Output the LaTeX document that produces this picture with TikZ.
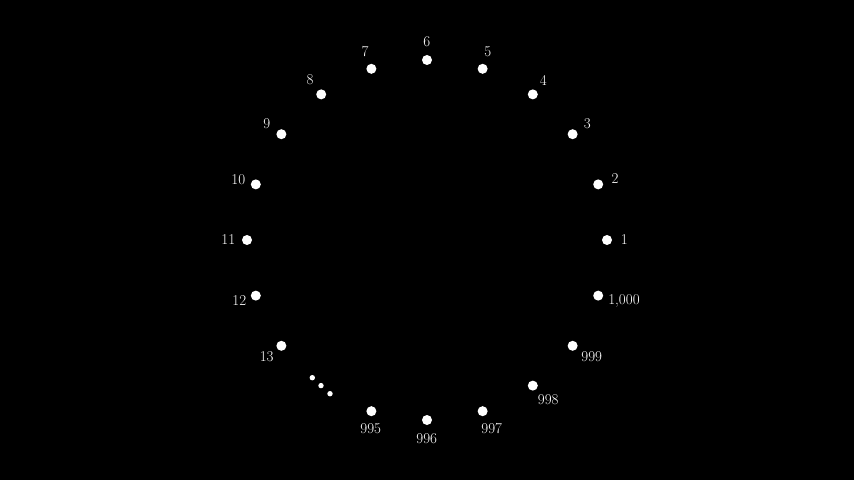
\documentclass[tikz,border=0pt]{standalone}
\usetikzlibrary{calc}
\begin{document}
\begin{tikzpicture}[x=1pt,y=1pt,
  dotnode/.style={circle,fill=white,inner sep=0pt,minimum size=10pt},
  smalldot/.style={circle,fill=white,inner sep=0pt,minimum size=5.4pt},
  numlabel/.style={text=white,inner sep=0pt,text depth=0pt,font=\fontsize{15}{17}\selectfont}]
\fill[black] (0,0) rectangle (854,480);
\useasboundingbox (0,0) rectangle (854,480);
\coordinate (c) at (427,240);
% dots around the circle
\foreach \n/\a in {1/0,2/18,3/36,4/54,5/72,6/90,7/108,8/126,9/144,10/162,11/180,12/198,13/216,
  995/252,996/270,997/288,998/306,999/324,1000/342}{
  \node[dotnode] (d\n) at ($(c)+(\a:180)$) {};
}
% ellipsis
\node[smalldot] (e1) at (312.3,102.3) {};
\node[smalldot] (e2) at (321,94.4) {};
\node[smalldot] (e3) at (330,86.3) {};
% labels
\node[numlabel] (l1) at (624.3,240) {1};
\node[numlabel] (l2) at (615,301) {2};
\node[numlabel] (l3) at (587.3,356.7) {3};
\node[numlabel] (l4) at (543.3,400) {4};
\node[numlabel] (l5) at (487.7,428.3) {5};
\node[numlabel] (l6) at (426.7,438.3) {6};
\node[numlabel] (l7) at (365,428.3) {7};
\node[numlabel] (l8) at (310,400) {8};
\node[numlabel] (l9) at (266.7,356.7) {9};
\node[numlabel] (l10) at (238.3,300.7) {10};
\node[numlabel] (l11) at (228.3,240) {11};
\node[numlabel] (l12) at (239.3,179.3) {12};
\node[numlabel] (l13) at (266.7,123.3) {13};
\node[numlabel] (l995) at (370.7,51.7) {995};
\node[numlabel] (l996) at (426.7,41.7) {996};
\node[numlabel] (l997) at (491.7,51.7) {997};
\node[numlabel] (l998) at (548.3,80) {998};
\node[numlabel] (l999) at (591.7,123.3) {999};
\node[numlabel] (l1000) at (624,180) {1,000};
\end{tikzpicture}
\end{document}
